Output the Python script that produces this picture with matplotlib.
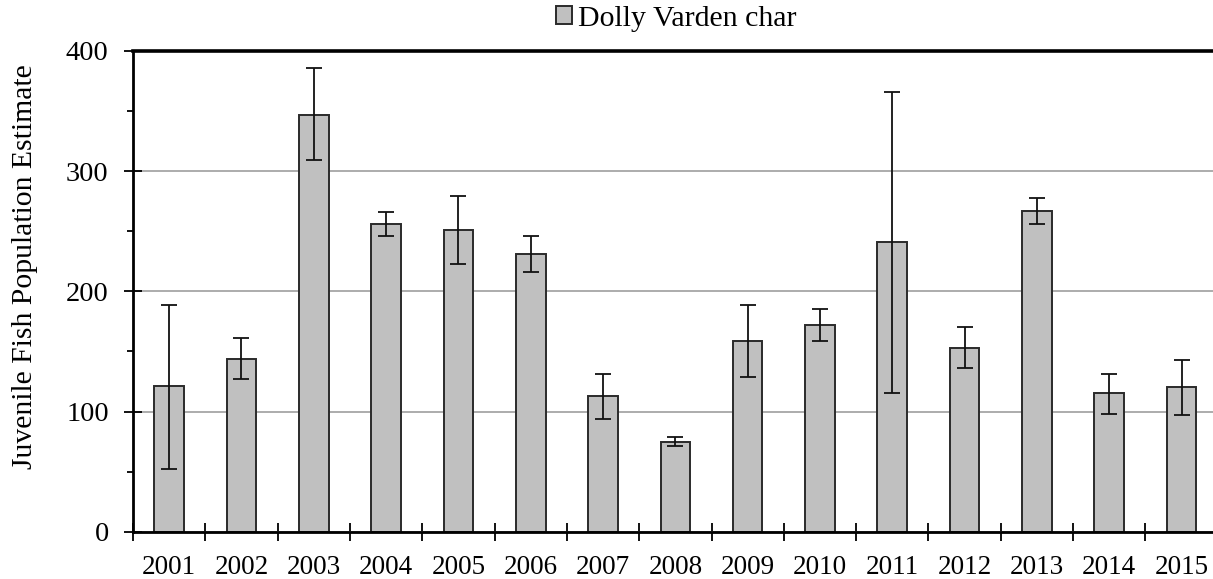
import matplotlib
matplotlib.use("Agg")
import matplotlib.pyplot as plt
import numpy as np
from matplotlib.ticker import MultipleLocator, FixedLocator

years = ["2001", "2002", "2003", "2004", "2005", "2006", "2007", "2008",
         "2009", "2010", "2011", "2012", "2013", "2014", "2015"]
estimates = [121, 144, 347, 256, 251, 231, 113, 75, 159, 172, 241, 153, 267, 115, 120]
upper_ci = [189, 161, 386, 266, 279, 246, 131, 79, 189, 185, 366, 170, 278, 131, 143]
lower_ci = [52, 127, 309, 246, 223, 216, 94, 71, 129, 159, 115, 136, 256, 98, 97]
series_name = "Dolly Varden char"

plt.rcParams['font.family'] = ['Liberation Serif', 'DejaVu Serif']

W, H = 1213, 579
fig = plt.figure(figsize=(W / 100, H / 100), dpi=100)
ax = fig.add_axes([133 / W, 1 - 531.7 / H, (1217.7 - 133) / W, (531.7 - 51) / H])

x = np.arange(len(years))
est = np.array(estimates)
yerr = np.vstack([est - np.array(lower_ci), np.array(upper_ci) - est])

ax.set_axisbelow(True)
ax.yaxis.grid(True, which='major', color='#a6a6a6', lw=1.3)
bars = ax.bar(x, est, width=0.41, color='#c0c0c0', edgecolor='#2a2a2a', lw=1.4,
              label=series_name, zorder=2)
ax.errorbar(x, est, yerr=yerr, fmt='none', ecolor='#111111', elinewidth=1.3,
            capsize=6, capthick=1.3, zorder=3)

ax.set_xlim(-0.5, len(years) - 0.5)
ax.set_ylim(0, 400)

ax.set_xticks(x)
ax.set_xticklabels(years)
ax.xaxis.set_minor_locator(FixedLocator(np.arange(-0.5, len(years), 1.0)))
ax.tick_params(axis='x', which='major', length=0, pad=17, labelsize=19.5)
ax.tick_params(axis='x', which='minor', direction='inout', length=13.5, width=1.3)

ax.yaxis.set_major_locator(MultipleLocator(100))
ax.yaxis.set_minor_locator(MultipleLocator(50))
ax.tick_params(axis='y', which='major', direction='inout', length=13, width=1.3,
               pad=11, labelsize=20.5)
ax.tick_params(axis='y', which='minor', direction='out', length=4.5, width=1.3)

for s in ['left', 'bottom']:
    ax.spines[s].set_linewidth(2.0)
ax.spines['top'].set_linewidth(2.6)
ax.spines['right'].set_visible(False)

ax.set_ylabel("Juvenile Fish Population Estimate", fontsize=21.3)
ax.yaxis.set_label_coords((38 - 133) / 1084.7, (531.7 - 266.5) / 480.7)

fig.legend(handles=[bars], labels=[series_name], loc='center',
           bbox_to_anchor=(676 / W, 1 - 19 / H), frameon=False, fontsize=21.5,
           handlelength=0.55, handleheight=0.55, handletextpad=0.2,
           borderpad=0, borderaxespad=0)

fig.savefig("out.png", dpi=100)
